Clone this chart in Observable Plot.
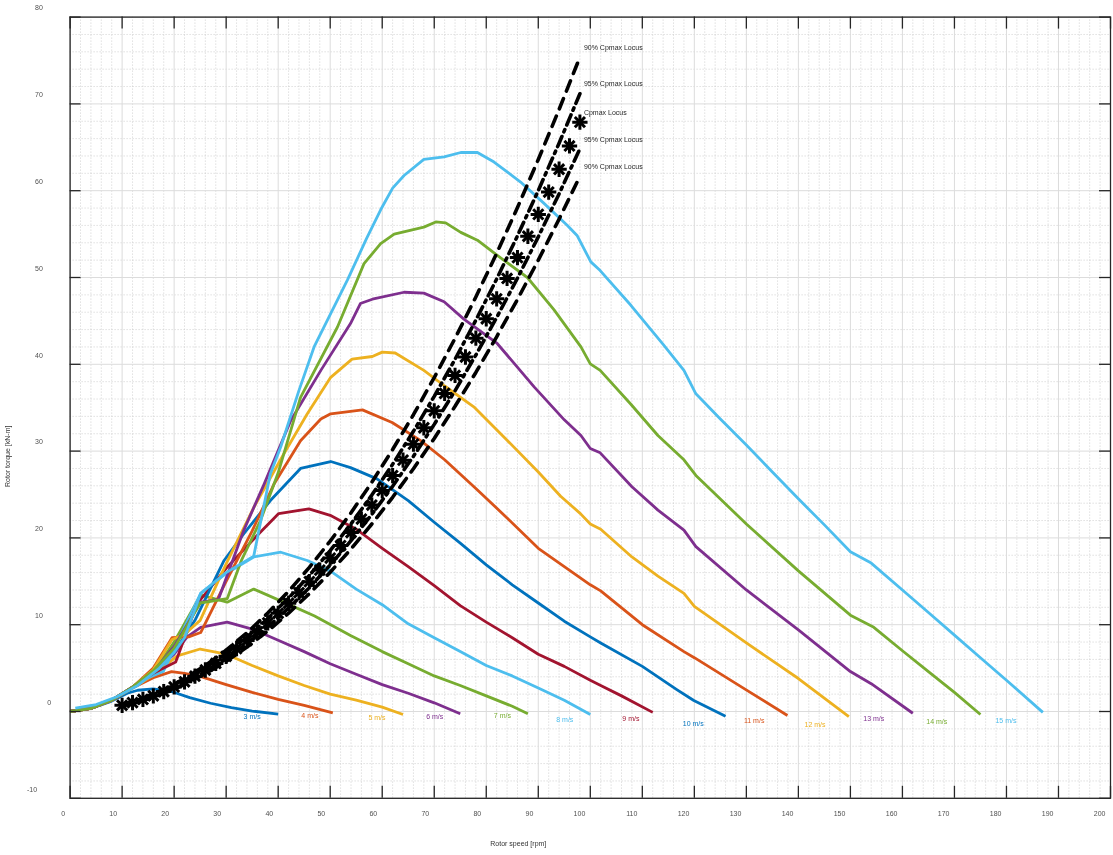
<!DOCTYPE html>
<html>
<head>
<meta charset="utf-8">
<script src="https://cdn.jsdelivr.net/npm/d3@7"></script>
<script src="https://cdn.jsdelivr.net/npm/@observablehq/plot@0.6"></script>
<style>
  html, body { margin: 0; padding: 0; background: #ffffff; }
  #chart { width: 1113px; height: 855px; }
  #chart svg { will-change: transform; }
  #chart svg text.gray { filter: grayscale(1); }
</style>
</head>
<body>
<div id="chart"></div>
<script>
// ---------------- data ----------------
const xTicks = [0,10,20,30,40,50,60,70,80,90,100,110,120,130,140,150,160,170,180,190,200];
const yTicks = [-10,0,10,20,30,40,50,60,70,80];
const xLabel = "Rotor speed [rpm]";
const yLabel = "Rotor torque [kN-m]";

const windNames = ["3 m/s","4 m/s","5 m/s","6 m/s","7 m/s","8 m/s","9 m/s","10 m/s","11 m/s","12 m/s","13 m/s","14 m/s","15 m/s"];
const windColors = ["#0072BD","#D95319","#EDB120","#7E2F8E","#77AC30","#4DBEEE","#A2142F","#0072BD","#D95319","#EDB120","#7E2F8E","#77AC30","#4DBEEE"];
const windLabelRpm = [35.0,46.1,59.0,70.1,83.1,95.1,107.8,119.8,131.5,143.2,154.5,166.6,179.9];
const windLabelTorque = [-0.58,-0.5,-0.77,-0.58,-0.5,-0.96,-0.84,-1.42,-1.12,-1.5,-0.84,-1.23,-1.12];

const rpm3 = [0,4,8,11,13,16,19.5,23,27,31,35,40];
const tq3  = [0,0.35,1.2,2.1,2.45,2.6,2.3,1.6,0.95,0.45,0.05,-0.3];
const rpm4 = [0,4,8,12,16,19.5,22,25,30,35,40,45,50.5];
const tq4  = [0,0.35,1.3,2.7,3.9,4.6,4.4,4.05,3.1,2.2,1.4,0.7,-0.15];
const rpm5 = [0,4,8,12,16,20.6,25,30,35,40,45,50,55,60,64];
const tq5  = [0,0.35,1.3,2.7,4.2,6.4,7.2,6.6,5.3,4.1,3.0,2.0,1.3,0.5,-0.35];
const rpm6 = [0,4,8,12,16,20,22.5,25.1,30.2,35,40,45,50,55,60,65,70,75];
const tq6  = [0,0.35,1.3,2.8,4.5,6.6,8.6,9.7,10.3,9.5,8.2,6.9,5.5,4.3,3.1,2.1,1.0,-0.25];
const rpm7 = [0,4,8,12,16,20,25.1,30.2,35.3,41.8,47,53.9,60,65,70,75,80,85,88];
const tq7  = [0,0.35,1.3,2.8,4.5,8.0,13.4,12.6,14.1,12.4,11.0,8.75,6.9,5.5,4.1,3.0,1.8,0.6,-0.25];
const rpm8 = [0,4,8,12,15,17.9,25.1,30,35.3,40.5,45.6,50,55,60,65,70,75,80,85,90,95,100];
const tq8  = [0,0.4,1.3,2.8,3.9,4.6,13.6,15.9,17.8,18.35,17.4,16.2,14.1,12.3,10.1,8.5,6.9,5.3,4.1,2.7,1.3,-0.35];
const rpm9 = [0,4,8,12,16,20.3,24.4,30,36,40.1,45.9,50,55,60,65,70,75,80,85,90,95,100,102,106,112];
const tq9  = [0,0.35,1.3,2.8,4.4,5.7,12.4,16.5,20.3,22.8,23.35,22.6,21.0,18.8,16.7,14.5,12.2,10.3,8.5,6.6,5.2,3.6,3.0,1.8,-0.1];
const rpm10 = [0,4,8,12,16,20,24,29.6,33.4,38.5,44.3,50.1,53.9,59,65,70,75,80,85,90,95,100,102,110,116.7,119.9,126];
const tq10  = [0,0.35,1.3,2.8,4.5,6.8,10.5,17.4,20.5,24.3,28.0,28.8,28.1,26.8,24.3,21.8,19.4,16.9,14.6,12.5,10.4,8.6,7.9,5.2,2.5,1.27,-0.55];
const rpm11 = [0,4,8,12,16,19.6,22.8,25.1,30,35,39.2,44.3,48.2,50.1,56.2,61.9,67.4,72,78,84,90,95,100,102,110,118,120,130.2,137.9];
const tq11  = [0,0.35,1.3,2.8,5.0,8.5,8.6,9.1,15.0,20.8,26.2,31.2,33.7,34.3,34.75,33.3,31.2,29.0,25.7,22.3,18.8,16.7,14.6,13.9,10.0,6.9,6.2,2.4,-0.46];
const rpm12 = [0,4,8,12,16,19.6,22,25,30,35.3,41.1,45.6,50.1,54.2,58.1,60,62.5,68,72,77.6,84.1,90,94.3,98.1,100,102,108,113,118,120,130,140,149.7];
const tq12  = [0,0.35,1.3,2.8,4.8,8.3,8.9,10.5,17.0,23.5,29.7,34.3,38.5,40.6,40.9,41.4,41.3,39.3,37.5,35.1,31.2,27.6,24.8,22.8,21.6,21.0,17.8,15.6,13.6,12.1,7.9,3.8,-0.6];
const rpm13 = [0,4,8,12,16,20,25.1,28.5,33.4,37.3,42.4,48.2,53.9,55.8,58.1,64.2,68,71.9,75.7,82.1,89.2,95,98.2,100,101.9,108,113,118,120.3,130,140,150,154,162];
const tq13  = [0,0.35,1.3,2.8,4.6,7.5,12.6,12.9,20.9,26.2,33.5,39.3,44.7,47.0,47.5,48.3,48.2,47.2,45.2,42.4,37.4,33.6,31.8,30.3,29.8,25.9,23.2,20.9,19.0,14.0,9.4,4.6,3.2,-0.2];
const rpm14 = [0,4,8,12,16,20,25,30.2,33,36.6,40,44.3,51.4,56.5,59.7,62.3,68,70.3,72.2,75.1,78.3,82,87.9,93,98.2,100,101.9,107.8,113,118,120.3,130,140,150,154.5,160,165,170,175];
const tq14  = [0,0.35,1.3,2.8,4.7,7.3,12.5,13.0,17.5,22,27.5,36.2,44.3,51.6,53.9,55.0,55.8,56.4,56.3,55.2,54.3,52.6,50.0,46.3,42.0,40.05,39.3,35.4,31.8,29.0,27.2,21.6,16.2,11.1,9.7,7.0,4.6,2.2,-0.35];
const rpm15 = [1,5,9,13,17,20,22,25.1,30,35.3,38.5,40.5,44,46.9,53.3,57,59.7,62,64.2,68,71.9,75.1,78.3,81.5,86.6,91,95.6,97.5,100.1,101.9,107.8,114,118,120.3,125,130,135,140,145,150,154,160,165,170,175,180,187];
const tq15  = [0.4,0.8,1.7,3.0,4.9,6.8,8.5,13.6,16.0,17.9,27.4,30.5,37,42.0,49.7,54.5,57.8,60.3,61.75,63.6,63.9,64.4,64.4,63.3,61.0,58.6,56.0,54.8,51.8,50.8,46.8,42.3,39.3,36.6,33.7,30.7,27.6,24.5,21.5,18.4,17.1,14.0,11.4,8.8,6.2,3.6,-0.1];

// Cpmax locus (asterisks)
const cpRpm = [10,12,14,16,18,20,22,24,26,28,30,32,34,36,38,40,42,44,46,48,50,52,54,56,58,60,62,64,66,68,70,72,74,76,78,80,82,84,86,88,90,92,94,96,98];
const cpTorque = [0.71,1.02,1.39,1.81,2.29,2.83,3.42,4.07,4.78,5.54,6.36,7.24,8.17,9.16,10.21,11.31,12.47,13.69,14.96,16.29,17.68,19.12,20.62,22.17,23.78,25.45,27.18,28.96,30.80,32.69,34.64,36.65,38.72,40.84,43.01,45.25,47.54,49.89,52.29,54.75,57.27,59.84,62.47,65.16,67.90];

// 90% / 95% Cpmax loci (both sides)
const locusRpm = [10,14,18,22,26,30,34,38,42,46,50,54,58,62,66,70,74,78,82,86,90,94,98];
const locus90Low  = [0.79,1.54,2.54,3.80,5.31,7.07,9.07,11.34,13.85,16.61,19.63,22.89,26.41,30.18,34.19,38.47,42.99,47.76,52.78,58.06,63.59,69.36,75.39];
const locus95Low  = [0.74,1.45,2.40,3.59,5.01,6.67,8.57,10.70,13.07,15.68,18.53,21.61,24.93,28.48,32.28,36.31,40.58,45.08,49.82,54.80,60.02,65.47,71.17];
const locus95High = [0.68,1.32,2.19,3.27,4.56,6.08,7.80,9.75,11.91,14.28,16.88,19.68,22.71,25.95,29.40,33.08,36.96,41.07,45.39,49.92,54.68,59.64,64.83];
const locus90High = [0.64,1.26,2.08,3.11,4.34,5.78,7.42,9.27,11.32,13.58,16.05,18.72,21.60,24.68,27.97,31.46,35.16,39.06,43.17,47.48,52.00,56.73,61.66];
const locusNames = ["90% Cpmax Locus","95% Cpmax Locus","Cpmax Locus","95% Cpmax Locus","90% Cpmax Locus"];

// ---------------- build tables ----------------
const curveRpm = [rpm3,rpm4,rpm5,rpm6,rpm7,rpm8,rpm9,rpm10,rpm11,rpm12,rpm13,rpm14,rpm15];
const curveTq  = [tq3,tq4,tq5,tq6,tq7,tq8,tq9,tq10,tq11,tq12,tq13,tq14,tq15];
const curves = curveRpm.map((r, i) => r.map((x, j) => ({x, y: curveTq[i][j]})));
const windLabels = windNames.map((t, i) => ({t, x: windLabelRpm[i], y: windLabelTorque[i], c: windColors[i]}));
const toPts = ys => locusRpm.map((x, j) => ({x, y: ys[j]}));
const cpPts = cpRpm.map((x, j) => ({x, y: cpTorque[j]}));
const lastIdx = locusRpm.length - 1;
const locusEnds = [
  {x: locusRpm[lastIdx], y: locus90Low[lastIdx]},
  {x: locusRpm[lastIdx], y: locus95Low[lastIdx]},
  {x: cpRpm[cpRpm.length - 1], y: cpTorque[cpTorque.length - 1]},
  {x: locusRpm[lastIdx], y: locus95High[lastIdx]},
  {x: locusRpm[lastIdx], y: locus90High[lastIdx]}
].map((d, i) => ({...d, t: locusNames[i]}));

// ---------------- layout ----------------
const W = 1113, H = 855;
const mL = 69.6, mR = 3, mT = 16.6, mB = 57.2;
const innerW = W - mL - mR, innerH = H - mT - mB;
const xMinor = d3.range(0, 201, 2).filter(d => d % 10 !== 0);
const yMinor = d3.range(-10, 81, 2).filter(d => d % 10 !== 0);
const font = "'Liberation Sans', Arial, Helvetica, sans-serif";
const gray = "#505050";

const marks = [
  Plot.ruleX(xMinor, {x: d => d, stroke: "#c4c4c4", strokeWidth: 0.8, strokeDasharray: "1,2"}),
  Plot.ruleY(yMinor, {y: d => d, stroke: "#c4c4c4", strokeWidth: 0.8, strokeDasharray: "1,2"}),
  Plot.ruleX(xTicks, {x: d => d, stroke: "#dcdcdc", strokeWidth: 1}),
  Plot.ruleY(yTicks, {y: d => d, stroke: "#dcdcdc", strokeWidth: 1})
];

curves.forEach((pts, i) => {
  marks.push(Plot.line(pts, {x: "x", y: "y", stroke: windColors[i], strokeWidth: 2.8, strokeLinejoin: "round", strokeLinecap: "butt"}));
});

marks.push(
  Plot.line(toPts(locus90Low),  {x: "x", y: "y", stroke: "#000", strokeWidth: 3.6, strokeDasharray: "11,8"}),
  Plot.line(toPts(locus95Low),  {x: "x", y: "y", stroke: "#000", strokeWidth: 3.6, strokeDasharray: "11,5,2.5,5"}),
  Plot.line(toPts(locus95High), {x: "x", y: "y", stroke: "#000", strokeWidth: 3.6, strokeDasharray: "11,5,2.5,5"}),
  Plot.line(toPts(locus90High), {x: "x", y: "y", stroke: "#000", strokeWidth: 3.6, strokeDasharray: "11,8"}),
  Plot.dot(cpPts, {x: "x", y: "y", symbol: "plus", r: 5.0, stroke: "#000", strokeWidth: 3}),
  Plot.dot(cpPts, {x: "x", y: "y", symbol: "times", r: 4.7, stroke: "#000", strokeWidth: 3}),
  Plot.dot(cpPts, {x: "x", y: "y", r: 3, fill: "#000"}),
  Plot.text(locusEnds, {x: "x", y: "y", text: "t", dx: 4, dy: -9.5, textAnchor: "start", fontSize: 7, fill: "#262626"}),
  Plot.text(windLabels, {x: "x", y: "y", text: "t", fill: d => d.c, fontSize: 7, textAnchor: "middle"}),
  Plot.frame({stroke: "#262626", strokeWidth: 1.3}),
  Plot.tickX(xTicks, {x: d => d, insetTop: innerH - 12, stroke: "#262626", strokeWidth: 1.3}),
  Plot.tickX(xTicks, {x: d => d, insetBottom: innerH - 12, stroke: "#262626", strokeWidth: 1.3}),
  Plot.tickY(yTicks, {y: d => d, insetRight: innerW - 11, stroke: "#262626", strokeWidth: 1.3}),
  Plot.tickY(yTicks, {y: d => d, insetLeft: innerW - 11, stroke: "#262626", strokeWidth: 1.3}),
  Plot.text(xTicks, {x: d => d, text: d => String(d), frameAnchor: "bottom", dy: 18, dx: -5, textAnchor: "end", fontSize: 7, fill: gray}),
  Plot.text(yTicks.filter(d => d > 0), {y: d => d, text: d => String(d), frameAnchor: "left", dx: -27.3, dy: -9, textAnchor: "end", fontSize: 7, fill: gray}),
  Plot.text(yTicks.filter(d => d === 0), {y: d => d, text: d => String(d), frameAnchor: "left", dx: -19, dy: -9, textAnchor: "end", fontSize: 7, fill: gray}),
  Plot.text(yTicks.filter(d => d < 0), {y: d => d, text: d => String(d), frameAnchor: "left", dx: -33, dy: -9, textAnchor: "end", fontSize: 7, fill: gray}),
  Plot.text([xLabel], {frameAnchor: "bottom", text: d => d, dx: -72, dy: 48, fontSize: 7, fill: "#333"}),
  Plot.text([yLabel], {frameAnchor: "left", text: d => d, rotate: -90, dx: -62.3, dy: 79.3, fontSize: 7, fill: "#333"})
);

const chart = Plot.plot({
  width: W, height: H,
  marginLeft: mL, marginRight: mR, marginTop: mT, marginBottom: mB,
  x: {domain: [0, 200], axis: null},
  y: {domain: [-10, 80], axis: null},
  style: {fontFamily: font, fontSize: "7px", background: "transparent", overflow: "visible"},
  marks
});
chart.querySelectorAll("text").forEach(t => {
  const f = t.getAttribute("fill") || (t.parentNode && t.parentNode.getAttribute && t.parentNode.getAttribute("fill"));
  if (f === gray || f === "#333" || f === "#262626") t.classList.add("gray");
});
document.getElementById("chart").appendChild(chart);
</script>
</body>
</html>
